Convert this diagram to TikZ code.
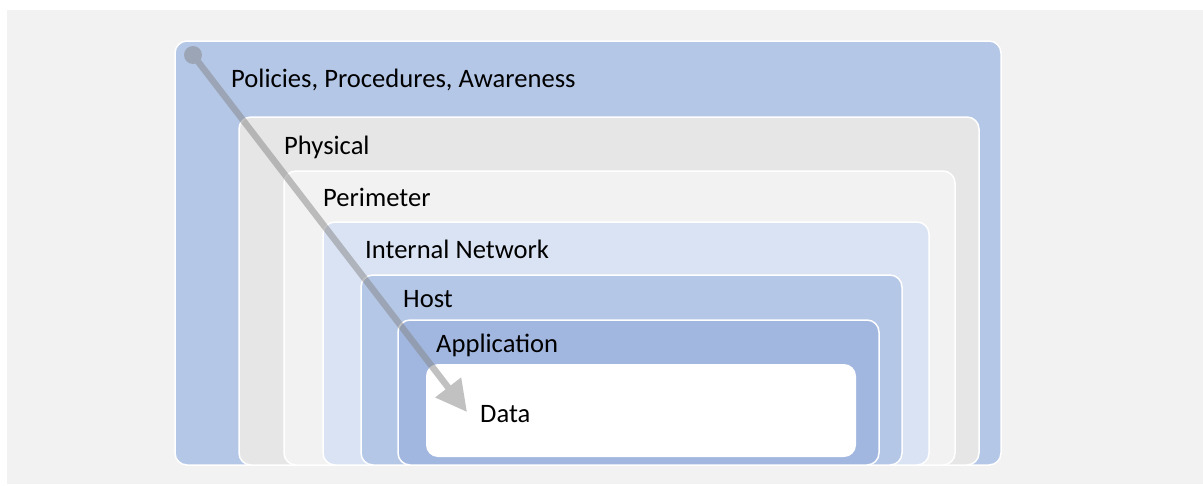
\documentclass[tikz,border=0pt]{standalone}
\usepackage{fontspec}
\setmainfont{Carlito}
\usetikzlibrary{arrows.meta}
\definecolor{bgc}{HTML}{F2F2F2}
\definecolor{lay1}{HTML}{B4C7E7}
\definecolor{lay2}{HTML}{E6E6E6}
\definecolor{lay3}{HTML}{F2F2F2}
\definecolor{lay4}{HTML}{DAE3F3}
\definecolor{lay5}{HTML}{B4C7E7}
\definecolor{lay6}{HTML}{A1B7E0}
\definecolor{arrc}{HTML}{858585}
\tikzset{
  layer/.style={draw=white, line width=1.5pt, rounded corners=12pt},
  lbl/.style={anchor=base west, inner sep=0pt, font=\fontsize{26.6}{30}\selectfont, text=black},
}
\begin{document}
\begin{tikzpicture}[x=1pt,y=-1pt]
\useasboundingbox (0,0) rectangle (1203,485);
\fill[white] (0,0) rectangle (1203,485);
\fill[bgc] (7,10) rectangle (1203,484);
\draw[layer, fill=lay1] (175,41) rectangle (1001,465);
\draw[layer, fill=lay2] (239,117) rectangle (979,465);
\draw[layer, fill=lay3] (284,171) rectangle (955,465);
\draw[layer, fill=lay4] (323,222) rectangle (929,465);
\draw[layer, fill=lay5] (361,275) rectangle (902,465);
\draw[layer, fill=lay6] (398,320) rectangle (879,465);
\draw[layer, fill=white, draw=none] (426,364) rectangle (856,457);
\node[lbl] (policies) at (231,87) {Policies, Procedures, Awareness};
\node[lbl] (physical) at (284,154) {Physical};
\node[lbl] (perimeter) at (323,206) {Perimeter};
\node[lbl] (internal) at (365,258) {Internal Network};
\node[lbl] (host) at (403,307) {Host};
\node[lbl] (application) at (436,352) {Application};
\node[lbl] (data) at (480,422) {Data};
\coordinate (start) at (193,55);
\coordinate (end) at (467,412);
\begin{scope}[transparency group, opacity=0.5]
\fill[arrc] (start) circle (9);
\draw[arrc, line width=6.5pt, -{Triangle[length=31pt,width=31pt]}] (start) -- (end);
\end{scope}
\end{tikzpicture}
\end{document}
